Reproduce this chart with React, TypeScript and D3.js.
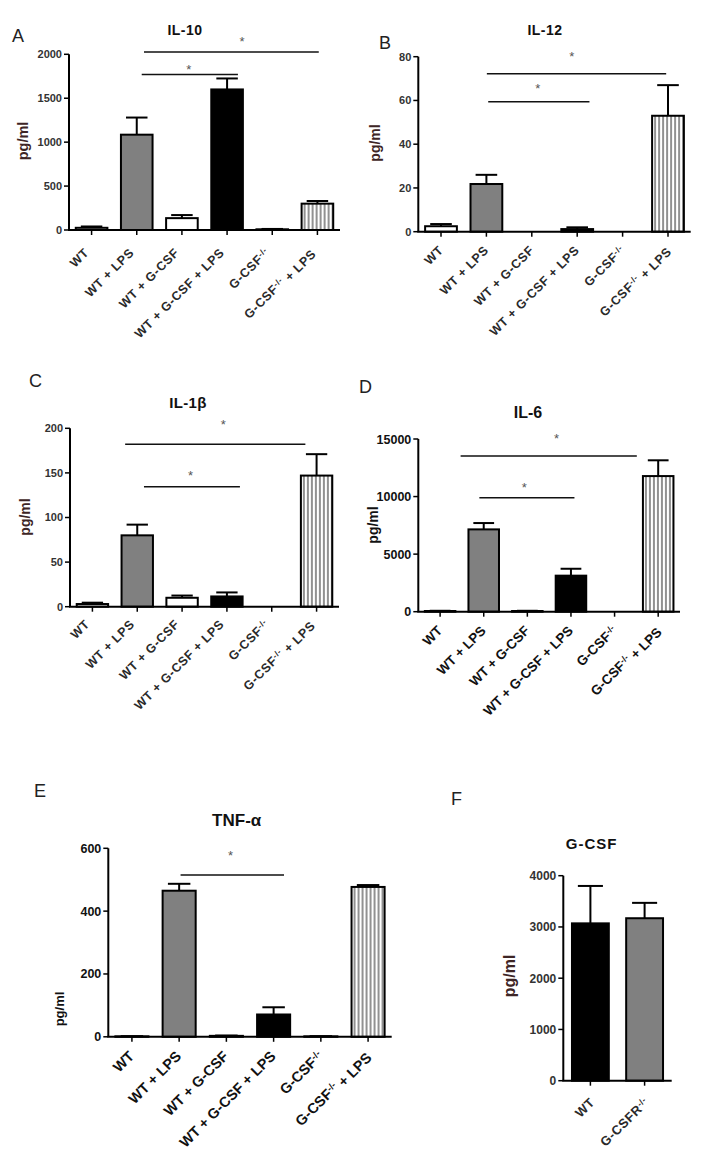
import React from "react";
import * as d3 from "d3";

// ---------- DATA ----------
const CATEGORIES = ["WT", "WT + LPS", "WT + G-CSF", "WT + G-CSF + LPS", "G-CSF^{-/-}", "G-CSF^{-/-} + LPS"];
const FILLS = ["white", "gray", "white", "black", "white", "stripe"];

const IL10_MEAN = [25, 1085, 135, 1600, 8, 300];
const IL10_SEM = [15, 195, 35, 125, 4, 30];
const IL10_TICKS = [0, 500, 1000, 1500, 2000];

const IL12_MEAN = [2.5, 21.8, 0, 1.2, 0, 53];
const IL12_SEM = [1, 4.2, 0, 0.8, 0, 14];
const IL12_TICKS = [0, 20, 40, 60, 80];

const IL1B_MEAN = [3, 80, 10, 11.5, 0, 147];
const IL1B_SEM = [1.5, 12, 2.5, 4.5, 0, 24];
const IL1B_TICKS = [0, 50, 100, 150, 200];

const IL6_MEAN = [60, 7150, 60, 3130, 0, 11780];
const IL6_SEM = [20, 550, 20, 600, 0, 1370];
const IL6_TICKS = [0, 5000, 10000, 15000];

const TNF_MEAN = [1.5, 465, 3, 71, 1.5, 477];
const TNF_SEM = [0.5, 22, 1, 23, 0.5, 6];
const TNF_TICKS = [0, 200, 400, 600];

const GCSF_CATEGORIES = ["WT", "G-CSFR^{-/-}"];
const GCSF_FILLS = ["black", "gray"];
const GCSF_MEAN = [3070, 3170];
const GCSF_SEM = [730, 300];
const GCSF_TICKS = [0, 1000, 2000, 3000, 4000];

// significance comparisons: [fromGroup, toGroup, lineValue, starValue, starGroup]
const IL10_SIG = [[1.16, 5.03, 2026, 2182, 3.33], [1.11, 3.24, 1769, 1864, 2.15]];
const IL12_SIG = [[1.01, 4.96, 72.2, 81.7, 2.88], [1.04, 3.27, 59.4, 67.1, 2.13]];
const IL1B_SIG = [[0.73, 4.75, 182, 208, 2.92], [1.15, 3.29, 134.5, 151.3, 2.19]];
const IL6_SIG = [[0.47, 4.51, 13524, 15348, 2.67], [0.9, 3.08, 9902, 11092, 1.93]];
const TNF_SIG = [[1.03, 3.22, 515, 589, 2.09]];

// ---------- LAYOUT ----------
const FONT = "'Liberation Sans', Arial, Helvetica, sans-serif";

type Panel = {
  id: string; letter: string; lx: number; ly: number;
  title: string; tx: number; ty: number; tfs: number; tls: number;
  x0: number; x1: number; yTop: number; yBot: number;
  ylx: number; yly: number; ylfs: number;
  tickFs: number; labFs: number; labLs: number; lox: number; loy: number; pi: number;
  cats: string[]; fills: string[]; mean: number[]; sem: number[]; ticks: number[]; sig: number[][];
  tickColor: string; ylabColor: string; labColor: string;
};

const PANELS: Panel[] = [
  { id: "a", letter: "A", lx: 12, ly: 42, title: "IL-10", tx: 185, ty: 35, tfs: 14, tls: 0.5,
    x0: 69, x1: 340, yTop: 54.3, yBot: 230, ylx: 28, yly: 141, ylfs: 14.5,
    tickFs: 11, labFs: 12.5, labLs: 0.6, lox: -2, loy: 17, pi: 0.3,
    cats: CATEGORIES, fills: FILLS, mean: IL10_MEAN, sem: IL10_SEM, ticks: IL10_TICKS, sig: IL10_SIG,
    tickColor: "#333", ylabColor: "#3d2525", labColor: "#2a2a2a" },
  { id: "b", letter: "B", lx: 379, ly: 49, title: "IL-12", tx: 545, ty: 35, tfs: 14, tls: 0.5,
    x0: 418.3, x1: 690.7, yTop: 56.7, yBot: 231.7, ylx: 380, yly: 143, ylfs: 14,
    tickFs: 11, labFs: 12.5, labLs: 0.6, lox: 3, loy: 13, pi: 0.3,
    cats: CATEGORIES, fills: FILLS, mean: IL12_MEAN, sem: IL12_SEM, ticks: IL12_TICKS, sig: IL12_SIG,
    tickColor: "#333", ylabColor: "#3d2525", labColor: "#2a2a2a" },
  { id: "c", letter: "C", lx: 29, ly: 387, title: "IL-1β", tx: 188, ty: 408, tfs: 15, tls: 0.3,
    x0: 70, x1: 339, yTop: 428.3, yBot: 606.7, ylx: 30, yly: 517, ylfs: 14,
    tickFs: 11, labFs: 12.5, labLs: 0.6, lox: -2, loy: 12, pi: 0.3,
    cats: CATEGORIES, fills: FILLS, mean: IL1B_MEAN, sem: IL1B_SEM, ticks: IL1B_TICKS, sig: IL1B_SIG,
    tickColor: "#333", ylabColor: "#3d2525", labColor: "#2a2a2a" },
  { id: "d", letter: "D", lx: 359, ly: 393, title: "IL-6", tx: 528, ty: 418, tfs: 16, tls: 0,
    x0: 418.3, x1: 680, yTop: 439, yBot: 611.7, ylx: 378, yly: 525, ylfs: 14,
    tickFs: 12.5, labFs: 13.5, labLs: 0, lox: 3, loy: 13, pi: 0.3,
    cats: CATEGORIES, fills: FILLS, mean: IL6_MEAN, sem: IL6_SEM, ticks: IL6_TICKS, sig: IL6_SIG,
    tickColor: "#111", ylabColor: "#111", labColor: "#111" },
  { id: "e", letter: "E", lx: 34, ly: 797, title: "TNF-α", tx: 236.7, ty: 826, tfs: 17, tls: 0,
    x0: 108.3, x1: 391.7, yTop: 848.3, yBot: 1036.8, ylx: 64, yly: 1009, ylfs: 13,
    tickFs: 12.5, labFs: 14.5, labLs: 0, lox: 3, loy: 13, pi: 0.3,
    cats: CATEGORIES, fills: FILLS, mean: TNF_MEAN, sem: TNF_SEM, ticks: TNF_TICKS, sig: TNF_SIG,
    tickColor: "#111", ylabColor: "#111", labColor: "#111" },
  { id: "f", letter: "F", lx: 451, ly: 805, title: "G-CSF", tx: 591.7, ty: 849, tfs: 15, tls: 1,
    x0: 563.3, x1: 671.7, yTop: 875.7, yBot: 1080.7, ylx: 515, yly: 976, ylfs: 16,
    tickFs: 12, labFs: 13, labLs: 0.5, lox: 5, loy: 16, pi: 0.32,
    cats: GCSF_CATEGORIES, fills: GCSF_FILLS, mean: GCSF_MEAN, sem: GCSF_SEM, ticks: GCSF_TICKS, sig: [],
    tickColor: "#333", ylabColor: "#3d2525", labColor: "#2a2a2a" },
];

function Label({ text }: { text: string }) {
  const parts: { t: string; sup: boolean }[] = [];
  const re = /\^\{([^}]*)\}/g;
  let last = 0;
  let m: RegExpExecArray | null;
  while ((m = re.exec(text))) {
    if (m.index > last) parts.push({ t: text.slice(last, m.index), sup: false });
    parts.push({ t: m[1], sup: true });
    last = m.index + m[0].length;
  }
  if (last < text.length) parts.push({ t: text.slice(last), sup: false });
  const out: any[] = [];
  let prevSup = false;
  parts.forEach((p, i) => {
    let dy: string | undefined;
    if (p.sup && !prevSup) dy = "-0.45em";
    else if (!p.sup && prevSup) dy = "0.45em";
    out.push(
      <tspan key={i} dy={dy} fontSize={p.sup ? "65%" : undefined}>{p.t}</tspan>
    );
    prevSup = p.sup;
  });
  return <>{out}</>;
}

function BarPanel({ p }: { p: Panel }) {
  const n = p.cats.length;
  const x = d3.scaleBand<number>().domain(d3.range(n)).range([p.x0, p.x1]).paddingInner(p.pi).paddingOuter(p.pi / 2);
  const ymax = p.ticks[p.ticks.length - 1];
  const y = d3.scaleLinear().domain([0, ymax]).range([p.yBot, p.yTop]);
  const bw = x.bandwidth();
  const cx = (f: number) => (x(0) as number) + bw / 2 + f * x.step();
  const patId = "stripe-" + p.id;
  const fillOf = (f: string) => (f === "stripe" ? `url(#${patId})` : f === "gray" ? "#808080" : f === "black" ? "#000" : "#fff");
  return (
    <g>
      <defs>
        <pattern id={patId} patternUnits="userSpaceOnUse" width={4} height={10} x={(x(n - 1) as number) + 1}>
          <rect width={4} height={10} fill="#fff" />
          <line x1={2} x2={2} y1={0} y2={10} stroke="#222" strokeWidth={1} />
        </pattern>
      </defs>
      <text x={p.lx} y={p.ly} fontSize={18} fontFamily={FONT} fill="#222">{p.letter}</text>
      <text x={p.tx} y={p.ty} fontSize={p.tfs} fontFamily={FONT} fontWeight="bold" textAnchor="middle"
        letterSpacing={p.tls} fill="#111">{p.title}</text>
      {/* bars */}
      {p.mean.map((v, i) => {
        if (v <= 0) return null;
        const top = y(v);
        return (
          <rect key={"b" + i} x={x(i)} y={top} width={bw} height={p.yBot - top}
            fill={fillOf(p.fills[i])} stroke="#000" strokeWidth={2} />
        );
      })}
      {/* error bars */}
      {p.mean.map((v, i) => {
        if (v <= 0 || p.sem[i] <= 0) return null;
        const c = cx(i);
        const t = y(v + p.sem[i]);
        const cap = bw * 0.34;
        return (
          <g key={"e" + i} stroke="#000" strokeWidth={2}>
            <line x1={c} x2={c} y1={y(v)} y2={t} />
            <line x1={c - cap} x2={c + cap} y1={t} y2={t} />
          </g>
        );
      })}
      {/* y axis */}
      <line x1={p.x0} x2={p.x0} y1={p.yTop} y2={p.yBot} stroke="#000" strokeWidth={2} />
      {p.ticks.map((t) => (
        <g key={"t" + t}>
          <line x1={p.x0 - 5} x2={p.x0} y1={y(t)} y2={y(t)} stroke="#000" strokeWidth={1.5} />
          <text x={p.x0 - 7} y={y(t)} dy="0.36em" textAnchor="end" fontSize={p.tickFs} fontWeight="bold"
            fontFamily={FONT} fill={p.tickColor}>{t}</text>
        </g>
      ))}
      {/* x axis */}
      <line x1={p.x0 - 1} x2={p.x1} y1={p.yBot} y2={p.yBot} stroke="#000" strokeWidth={2} />
      {p.cats.map((c, i) => {
        const xc = cx(i);
        const ax = xc + p.lox;
        const ay = p.yBot + p.loy + 0.506 * p.labFs;
        return (
          <g key={"x" + i}>
            <line x1={xc} x2={xc} y1={p.yBot} y2={p.yBot + 5} stroke="#000" strokeWidth={1.5} />
            <text transform={`translate(${ax},${ay}) rotate(-45)`} textAnchor="end" fontSize={p.labFs}
              letterSpacing={p.labLs} fontWeight="bold" fontFamily={FONT} fill={p.labColor}><Label text={c} /></text>
          </g>
        );
      })}
      {/* y label */}
      <text transform={`translate(${p.ylx},${p.yly}) rotate(-90)`} textAnchor="middle" fontSize={p.ylfs}
        fontWeight="bold" fontFamily={FONT} fill={p.ylabColor}>pg/ml</text>
      {/* significance */}
      {p.sig.map((s, k) => (
        <g key={"s" + k}>
          <line x1={cx(s[0])} x2={cx(s[1])} y1={y(s[2])} y2={y(s[2])} stroke="#111" strokeWidth={1.5} />
          <text x={cx(s[4])} y={y(s[3])} dy="0.6em" textAnchor="middle" fontSize={13} fontFamily={FONT} fill="#555">*</text>
        </g>
      ))}
    </g>
  );
}

export default function App() {
  return (
    <svg width={703} height={1163} style={{ position: "absolute", left: 0, top: 0, background: "#fff" }}>
      <rect width={703} height={1163} fill="#fff" />
      {PANELS.map((p) => <BarPanel key={p.id} p={p} />)}
    </svg>
  );
}
